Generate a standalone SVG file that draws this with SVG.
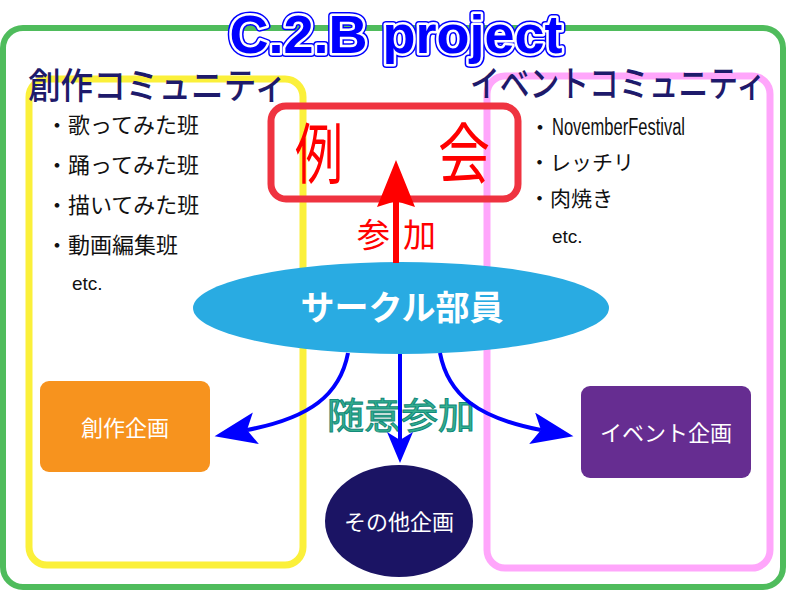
<svg xmlns="http://www.w3.org/2000/svg" width="787" height="591" viewBox="0 0 787 591">
<style>
.jp{font-family:"Noto Sans CJK JP","Noto Sans",sans-serif}
.list{font-size:22px;fill:#111}
.head{font-size:36px;fill:#1e1a6b;font-weight:500}
.lbl{font-size:22px;fill:#ffffff;text-anchor:middle}
</style>
<defs>
<marker id="stealth" markerUnits="userSpaceOnUse" markerWidth="44" markerHeight="34" viewBox="0 0 44 34" refX="9" refY="16" orient="auto">
<path d="M0,0 L42,16 L0,32 L9,16 Z" fill="#0000ff"/>
</marker>
<marker id="stealthS" markerUnits="userSpaceOnUse" markerWidth="34" markerHeight="28" viewBox="0 0 34 28" refX="8" refY="13" orient="auto">
<path d="M0,0 L31,13 L0,26 L8,13 Z" fill="#0000ff"/>
</marker>
<marker id="redhead" markerUnits="userSpaceOnUse" markerWidth="50" markerHeight="40" viewBox="0 0 50 40" refX="6" refY="19" orient="auto">
<path d="M0,0 L47,19 L0,38 L6,19 Z" fill="#ff0000"/>
</marker>
</defs>
<rect width="787" height="591" fill="#ffffff"/>
<g id="frame">
<rect x="3" y="28" width="780" height="559" rx="20" fill="none" stroke="#4fbc5c" stroke-width="6"/>
</g>
<g id="creative-community">
<rect x="29" y="79" width="274" height="486" rx="18" fill="none" stroke="#fbf03a" stroke-width="7"/>
<text class="jp head" x="28" y="99" textLength="259" lengthAdjust="spacingAndGlyphs">創作コミュニティ</text>
<text class="jp list" x="46" y="133">・歌ってみた班</text>
<text class="jp list" x="46" y="173">・踊ってみた班</text>
<text class="jp list" x="46" y="213">・描いてみた班</text>
<text class="jp list" x="46" y="253">・動画編集班</text>
<text x="72" y="290" font-family="Liberation Sans, Arial, sans-serif" font-size="19" fill="#111">etc.</text>
</g>
<g id="event-community">
<rect x="487" y="76" width="283" height="492" rx="18" fill="none" stroke="#ffa6fb" stroke-width="7"/>
<text class="jp head" x="470" y="97" textLength="296" lengthAdjust="spacingAndGlyphs">イベントコミュニティ</text>
<text class="jp list" x="529" y="135" font-size="20">・</text>
<text x="552" y="135" font-family="Liberation Sans, Arial, sans-serif" font-size="23" fill="#111" textLength="133" lengthAdjust="spacingAndGlyphs">NovemberFestival</text>
<text class="jp list" x="529" y="170" style="font-size:21px">・レッチリ</text>
<text class="jp list" x="529" y="206" style="font-size:21px">・肉焼き</text>
<text x="552" y="243" font-family="Liberation Sans, Arial, sans-serif" font-size="19" fill="#111">etc.</text>
</g>
<g id="reikai">
<rect x="271" y="106" width="247" height="93" rx="15" fill="none" stroke="#ef3340" stroke-width="7"/>
<text class="jp" x="295" y="178" font-size="66" fill="#ff0000" textLength="48" lengthAdjust="spacingAndGlyphs">例</text>
<text class="jp" x="438" y="178" font-size="66" fill="#ff0000" textLength="52" lengthAdjust="spacingAndGlyphs">会</text>
</g>
<g id="members">
<ellipse cx="401" cy="308" rx="208" ry="46" fill="#29abe2"/>
<text class="jp" x="402" y="320" font-size="34" font-weight="bold" fill="#ffffff" text-anchor="middle">サークル部員</text>
</g>
<g id="creative-project">
<rect x="40" y="381" width="170" height="91" rx="9" fill="#f7931e"/>
<text class="jp lbl" x="125" y="436">創作企画</text>
</g>
<g id="event-project">
<rect x="581" y="386" width="170" height="92" rx="9" fill="#662d91"/>
<text class="jp lbl" x="666" y="441">イベント企画</text>
</g>
<g id="other-project">
<ellipse cx="399" cy="521" rx="74" ry="56" fill="#1b1464"/>
<text class="jp lbl" x="399" y="530">その他企画</text>
</g>
<g id="labels">
<text class="jp" x="357" y="247" font-size="33" fill="#ff0000">参</text>
<text class="jp" x="403" y="247" font-size="33" fill="#ff0000">加</text>
<text class="jp" x="327" y="429" font-size="36" fill="#35b08f" stroke="#13897a" stroke-width="1" textLength="148" lengthAdjust="spacingAndGlyphs">随意参加</text>
</g>
<g id="connectors" fill="none">
<path d="M396,263 L396,201" stroke="#ff0000" stroke-width="6" marker-end="url(#redhead)"/>
<path d="M348,353 C340,395 310,418 247,430" stroke="#0000ff" stroke-width="4" marker-end="url(#stealth)"/>
<path d="M440,353 C448,395 478,418 541,430" stroke="#0000ff" stroke-width="4" marker-end="url(#stealth)"/>
<path d="M400,354 L400,440" stroke="#0000ff" stroke-width="4" marker-end="url(#stealthS)"/>
</g>
<g id="title" font-family="Liberation Sans, Arial, sans-serif" font-size="54" font-weight="bold" text-anchor="middle">
<text x="396" y="53" fill="#0000ff" stroke="#0000ff" stroke-width="8" stroke-linejoin="round">C.2.B project</text>
<text x="396" y="53" fill="#0000ff" stroke="#ffffff" stroke-width="5" stroke-linejoin="round">C.2.B project</text>
<text x="396" y="53" fill="#0000ff">C.2.B project</text>
</g>
</svg>
